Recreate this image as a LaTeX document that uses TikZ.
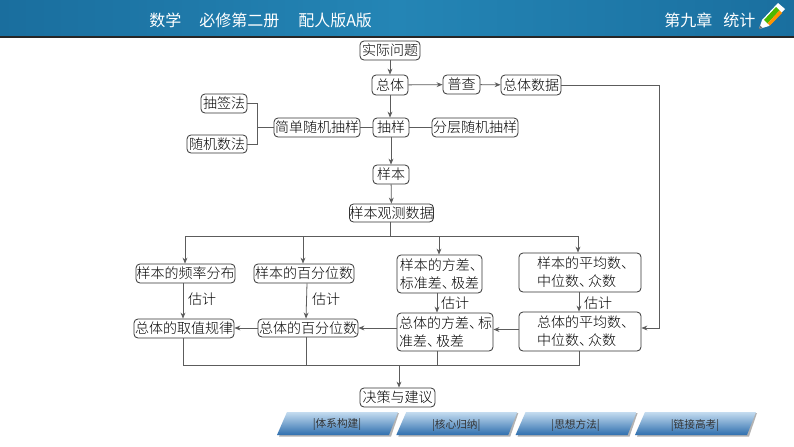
\documentclass[tikz,border=0pt]{standalone}
\usepackage{fontspec}
\setmainfont{Noto Sans CJK SC Light}
\newfontfamily\headfont{Noto Sans CJK SC}
\usetikzlibrary{calc,arrows.meta,shadings}
\definecolor{hdA}{HTML}{1A6E9E}
\definecolor{hdB}{HTML}{2485B5}
\definecolor{hdC}{HTML}{1A6F9F}
\definecolor{btT}{HTML}{C4DCF0}
\definecolor{btB}{HTML}{2F6FAE}
\definecolor{ln}{HTML}{333333}
\tikzset{
  x=0.75pt,y=-0.75pt,
  box/.style={draw=ln,line width=0.6pt,rounded corners=3pt,inner sep=0pt,fill=white,
    font=\fontsize{10.5pt}{13.5pt}\selectfont,text=black},
  con/.style={draw=ln!80,line width=0.6pt},
  arr/.style={con,-{Stealth[length=4.5pt,width=3.6pt]}},
  tag/.style={font=\fontsize{10.5pt}{13pt}\selectfont,text=black,inner sep=0pt},
  head/.style={font=\headfont\fontsize{12pt}{14pt}\selectfont,text=white,inner sep=0pt},
  btnlabel/.style={font=\headfont\fontsize{8pt}{10pt}\selectfont,text=black!80,inner sep=0pt},
}
\newcommand{\dun}{、\kern-3.6pt }
\newcommand{\btn}[3]{%
  \fill[black!30] (#1+2,436.5) -- (#1+12,413) -- (#1+122,413) -- (#1+114,436.5) -- cycle;
  \shade[top color=btT,bottom color=btB] (#1,435) -- (#1+10,412) -- (#1+121,412) -- (#1+112,435) -- cycle;
  \node[btnlabel] (#3) at (#1+60,425) {|#2|};
}
\begin{document}
\begin{tikzpicture}
\useasboundingbox (0,0) rectangle (794,447);
\fill[white] (0,0) rectangle (794,447);
% header
\shade[left color=hdA,right color=hdC,middle color=hdB] (0,0) rectangle (794,35);
\fill[black!85] (0,36.3) rectangle (794,37.6);
\node[head,anchor=west] (h1) at (149,20) {数学};
\node[head,anchor=west] (h2) at (199,20) {必修第二册};
\node[head,anchor=west] (h3) at (298,20) {配人版A版};
\node[head,anchor=west] (h4) at (664,20) {第九章};
\node[head,anchor=west] (h5) at (723,20) {统计};
% pencil
\fill[white] (759,29) -- (762,20) -- (778,3) -- (785,9) -- (769,26) -- cycle;
\fill[green!60!black!70!yellow] (764,20) -- (776,7) -- (779.5,10.5) -- (767.5,23.5) -- cycle;
\fill[orange!85!yellow] (767.5,23.5) -- (779.5,10.5) -- (782,13) -- (770,25.5) -- cycle;
\fill[black!55] (759,29) -- (760,25.5) -- (762.5,28) -- cycle;

% nodes
\node[box,minimum width=45pt,minimum height=14.25pt] (wenti) at (390,50.5) {实际问题};
\node[box,minimum width=27pt,minimum height=15pt] (zongti) at (390,85) {总体};
\node[box,minimum width=27.75pt,minimum height=14.25pt] (pucha) at (461.5,84.5) {普查};
\node[box,minimum width=45pt,minimum height=15pt] (ztsj) at (531,85) {总体数据};
\node[box,minimum width=34.5pt,minimum height=14.25pt] (chouqian) at (224,103.5) {抽签法};
\node[box,minimum width=45pt,minimum height=13.5pt] (suiji) at (217,144) {随机数法};
\node[box,minimum width=64.5pt,minimum height=14.25pt] (jiandan) at (317,127.5) {简单随机抽样};
\node[box,minimum width=27pt,minimum height=14.25pt] (chouyang) at (391,127.5) {抽样};
\node[box,minimum width=64.5pt,minimum height=14.25pt] (fenceng) at (475,127.5) {分层随机抽样};
\node[box,minimum width=27pt,minimum height=14.25pt] (yangben) at (391,174.5) {样本};
\node[box,minimum width=62.25pt,minimum height=13.5pt] (gcsj) at (391.5,213) {样本观测数据};
\node[box,minimum width=74.25pt,minimum height=14.25pt] (pinlv) at (185.5,273.5) {样本的频率分布};
\node[box,minimum width=75pt,minimum height=14.25pt] (ybbfw) at (304,273.5) {样本的百分位数};
\node[box,minimum width=63.75pt,minimum height=28.5pt,align=center] (ybfc) at (439.5,274) {样本的方差\dun\\标准差\dun 极差};
\node[box,minimum width=91.5pt,minimum height=29.25pt,text width=91.5pt,align=left] (ybpj) at (580,272.5) {\hspace*{13.5pt}样本的平均数、\\\hspace*{13.5pt}中位数\dun 众数};
\node[box,minimum width=75pt,minimum height=14.25pt] (guilv) at (184,328.5) {总体的取值规律};
\node[box,minimum width=75pt,minimum height=13.5pt] (ztbfw) at (308,328) {总体的百分位数};
\node[box,minimum width=72pt,minimum height=28.5pt,text width=69pt,align=left] (ztfc) at (445,332) {总体的方差\dun 标\\准差\dun 极差};
\node[box,minimum width=91.5pt,minimum height=29.25pt,text width=91.5pt,align=left] (ztpj) at (580,331.5) {\hspace*{13.5pt}总体的平均数、\\\hspace*{13.5pt}中位数\dun 众数};
\node[box,minimum width=56.25pt,minimum height=14.25pt] (juece) at (397.5,397.5) {决策与建议};

% labels
\node[tag] (g1) at (202,299) {估计};
\node[tag] (g2) at (326,299) {估计};
\node[tag] (g3) at (455,303) {估计};
\node[tag] (g4) at (598,303) {估计};

% junction coordinates
\coordinate (jl) at (257,127.5);
\coordinate (top) at (390,236);
\coordinate (bot) at (399,365);
\coordinate (r) at (659,85);
\coordinate (xa) at (185,236);
\coordinate (xb) at (303,236);
\coordinate (xc) at (439,236);
\coordinate (xd) at (578,236);
\coordinate (ya) at (183,365);
\coordinate (yb) at (306,365);
\coordinate (yc) at (437,365);
\coordinate (yd) at (579,365);

% connectors
\draw[arr] (wenti) -- (zongti);
\draw[arr] (zongti) -- (chouyang.north -| zongti);
\draw[arr] (zongti) -- (pucha);
\draw[arr] (pucha) -- (ztsj);
\draw[con] (chouqian.east) -| (jl);
\draw[con] (suiji.east) -| (jl);
\draw[con] (jl) -- (jiandan.west);
\draw[con] (jiandan) -- (chouyang);
\draw[con] (chouyang) -- (fenceng);
\draw[arr] (chouyang) -- (yangben);
\draw[arr] (yangben) -- (gcsj);
\draw[con] (gcsj.south -| top) -- (top);
\draw[con] (xa) -- (xd);
\draw[arr] (xa) -- (xa |- pinlv.north);
\draw[arr] (xb) -- (xb |- ybbfw.north);
\draw[arr] (xc) -- (xc |- ybfc.north);
\draw[arr] (xd) -- (xd |- ybpj.north);
\draw[arr] (pinlv.south -| ya) -- (guilv.north -| ya);
\draw[arr] (ybbfw.south -| yb) ++(1,0) -- (ztbfw.north -| yb);
\draw[arr] (ybfc.south -| yc) -- (ztfc.north -| yc);
\draw[arr] (ybpj.south -| yd) -- (ztpj.north -| yd);
\draw[arr] (ztpj.west) ++(0,-2) -- (ztfc.east |- 0,329.5);
\draw[arr] (ztfc.west |- ztbfw) -- (ztbfw.east);
\draw[arr] (ztbfw.west) -- (guilv.east |- ztbfw);
\draw[arr] (ztsj.east) -- (r) -- (r |- 0,328) -- (ztpj.east |- 0,328);
\draw[con] (guilv.south -| ya) -- (ya) -- (yd) -- (ztpj.south -| yd);
\draw[con] (ztbfw.south -| yb) -- (yb);
\draw[con] (ztfc.south -| yc) -- (yc);
\draw[arr] (bot) -- (juece.north -| bot);

% buttons
\btn{277}{体系构建}{b1}
\btn{396.3}{核心归纳}{b2}
\btn{515.6}{思想方法}{b3}
\btn{635}{链接高考}{b4}
\end{tikzpicture}
\end{document}
